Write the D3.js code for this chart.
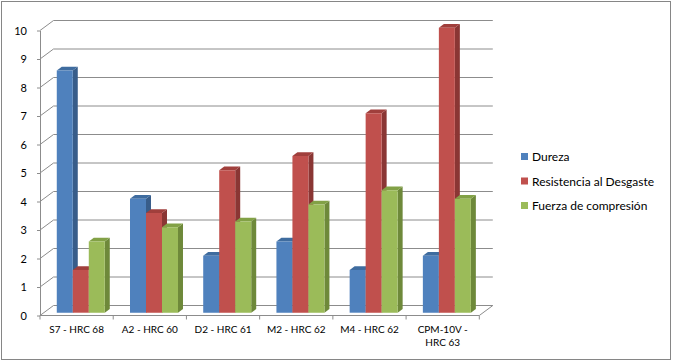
<!DOCTYPE html>
<html>
<head>
<meta charset="utf-8">
<script src="https://cdn.jsdelivr.net/npm/d3@7"></script>
<style>
  body { margin: 0; background: #fff; }
  svg text { font-family: "Lato", "Open Sans", sans-serif; fill: #000; }
</style>
</head>
<body>
<svg id="chart" width="673" height="364"></svg>
<script>
// data
const categories = ["S7 - HRC 68", "A2 - HRC 60", "D2 - HRC 61", "M2 - HRC 62", "M4 - HRC 62", "CPM-10V - HRC 63"];
const seriesNames = ["Dureza", "Resistencia al Desgaste", "Fuerza de compresión"];
const dureza      = [8.5, 4, 2, 2.5, 1.5, 2];
const resistencia = [1.5, 3.5, 5, 5.5, 7, 10];
const fuerza      = [2.5, 3, 3.2, 3.8, 4.3, 4];
const yTicks = d3.range(0, 11);

const seriesValues = [dureza, resistencia, fuerza];
const colors = [
  {front: "#4F81BD", top: "#3F6C9F", side: "#385D8A"},
  {front: "#C0504D", top: "#A03F3C", side: "#8A3634"},
  {front: "#9BBB59", top: "#82A146", side: "#6E893A"}
];

const svg = d3.select("#chart");

// outer border
svg.append("rect")
  .attr("x", 1.5).attr("y", 1.5)
  .attr("width", 669).attr("height", 358)
  .attr("fill", "#fff").attr("stroke", "#868686");

// depth of the box (back wall offset)
const depthX = 13.5, depthY = 10;
const x = d3.scaleBand().domain(categories).range([40, 479.3]);
const x1 = d3.scaleBand().domain(seriesNames).range([13, 61]);
const y = d3.scaleLinear().domain([0, 10]).range([315.5, 30.5]);

function p(px, v, d) {
  return [px + d * depthX, y(v) - d * depthY];
}

const grid = svg.append("g").attr("stroke", "#8c8c8c").attr("fill", "none");
const left = x.range()[0], right = x.range()[1];

// back wall gridlines + side wall diagonals
yTicks.forEach(function(v) {
  const a = p(left, v, 0), b = p(left, v, 1), c = p(right, v, 1);
  grid.append("path").attr("d", `M${a[0]},${a[1]}L${b[0]},${b[1]}L${c[0]},${c[1]}`);
});

// floor front edge and right edge
const f0 = p(left, 0, 0), f1 = p(right, 0, 0), f2 = p(right, 0, 1);
grid.append("path").attr("d", `M${f0[0]},${f0[1]}L${f1[0]},${f1[1]}L${f2[0]},${f2[1]}`);

// y axis
const yAxis = svg.append("g")
  .attr("transform", `translate(${left},0)`)
  .call(d3.axisLeft(y).tickValues(yTicks).tickSize(3).tickSizeOuter(0).tickPadding(10));
yAxis.select(".domain").attr("stroke", "#8c8c8c");
yAxis.selectAll(".tick line").attr("stroke", "#8c8c8c");
yAxis.selectAll(".tick text").style("font-size", "11px").attr("fill", "#000");

// category boundary ticks
const bounds = categories.map(c => x(c)).concat([right]);
svg.append("g").selectAll("line")
  .data(bounds)
  .enter().append("line")
    .attr("x1", d => d).attr("x2", d => d)
    .attr("y1", y(0)).attr("y2", y(0) + 4)
    .attr("stroke", "#8c8c8c");

// category labels (wrapped when too long)
const catLabels = svg.append("g").selectAll("text")
  .data(categories)
  .enter().append("text")
    .attr("x", d => x(d) + x.bandwidth() / 2)
    .attr("y", 333)
    .attr("text-anchor", "middle")
    .style("font-size", "10px")
    .text(d => d);

catLabels.each(function(d) {
  const t = d3.select(this);
  if (this.getComputedTextLength() > x.bandwidth() - 6) {
    const parts = d.split(" - ");
    t.text(null);
    t.append("tspan").attr("x", x(d) + x.bandwidth() / 2).text(parts[0] + " -");
    t.append("tspan").attr("x", x(d) + x.bandwidth() / 2).attr("dy", 13.3).text(parts[1]);
  }
});

// bars, front plane at depth d0, back at d1
const d0 = 0.28, d1 = 0.65;
const bars = svg.append("g");
categories.forEach(function(cat, i) {
  seriesNames.forEach(function(s, j) {
    const v = seriesValues[j][i];
    const xl = x(cat) + x1(s), xr = xl + x1.bandwidth();
    const a = p(xl, v, d0), b = p(xr, v, d0), c = p(xr, 0, d0), e = p(xl, 0, d0);
    const bt = p(xr, v, d1), lt = p(xl, v, d1), bb = p(xr, 0, d1);
    const g = bars.append("g");
    g.append("path") // side
      .attr("d", `M${b[0]},${b[1]}L${bt[0]},${bt[1]}L${bb[0]},${bb[1]}L${c[0]},${c[1]}Z`)
      .attr("fill", colors[j].side);
    g.append("path") // top
      .attr("d", `M${a[0]},${a[1]}L${lt[0]},${lt[1]}L${bt[0]},${bt[1]}L${b[0]},${b[1]}Z`)
      .attr("fill", colors[j].top);
    g.append("path") // front
      .attr("d", `M${a[0]},${a[1]}L${b[0]},${b[1]}L${c[0]},${c[1]}L${e[0]},${e[1]}Z`)
      .attr("fill", colors[j].front);
  });
});

// legend
const legend = svg.append("g").attr("transform", "translate(521,153)");
const items = legend.selectAll("g")
  .data(seriesNames)
  .enter().append("g")
    .attr("transform", (d, i) => `translate(0,${i * 24.5})`);
items.append("rect")
  .attr("width", 7).attr("height", 7)
  .attr("fill", (d, i) => colors[i].front);
items.append("text")
  .attr("x", 11).attr("y", 8)
  .style("font-size", "12px")
  .text(d => d);
</script>
</body>
</html>
